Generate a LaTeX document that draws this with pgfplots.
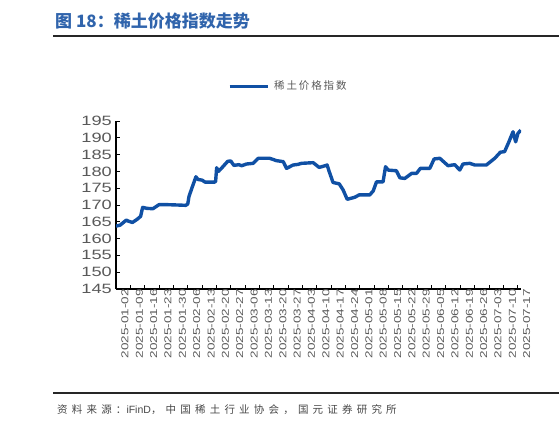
\documentclass[border=0pt]{standalone}
\usepackage{fontspec}
\usepackage{pgfplots}
\pgfplotsset{compat=1.18}
\setmainfont{Liberation Sans}
\newfontfamily\cjk{Noto Sans CJK SC}
\newfontfamily\cjkleg[LetterSpace=18]{Noto Sans CJK SC}
\newfontfamily\cjksrc[LetterSpace=40]{Noto Sans CJK SC}
\newfontfamily\numfont[FakeStretch=1.35]{Liberation Sans}
\definecolor{lineblue}{RGB}{16,80,164}
\definecolor{titleblue}{RGB}{48,100,172}
\definecolor{txtgray}{RGB}{89,89,89}

\begin{document}
\begin{tikzpicture}[x=1pt,y=1pt]
\useasboundingbox (0,0) rectangle (559,-428);
% title and rules
\node[anchor=west, text=titleblue, font=\cjk\bfseries\fontsize{17}{18}\selectfont, inner sep=0pt]
  at (55,-21) {图 18：稀土价格指数走势};
\draw[line width=2pt, black!85] (53,-36) -- (559,-36);
\draw[line width=2pt, black!85] (53,-393) -- (559,-393);
\node[anchor=west, text=txtgray!80!black, font=\fontsize{10.5}{12}\selectfont, inner sep=0pt]
  at (57,-410) {{\cjksrc 资料来源：}iFinD{\cjksrc ，中国稀土行业协会，国元证券研究所}};

\begin{axis}[
    at={(116pt,-289pt)}, anchor=south west,
    scale only axis,
    width=405pt, height=168pt,
    xmin=0, xmax=197.6,
    ymin=145, ymax=195,
    axis lines=left,
    axis line style={-, black, line width=1.1pt},
    tick style={black, line width=1pt},
    tick align=inside,
    major tick length=4pt,
    xtick={0,7,...,196},
    xticklabels={2025-01-02,2025-01-09,2025-01-16,2025-01-23,2025-01-30,2025-02-06,2025-02-13,2025-02-20,2025-02-27,2025-03-06,2025-03-13,2025-03-20,2025-03-27,2025-04-03,2025-04-10,2025-04-17,2025-04-24,2025-05-01,2025-05-08,2025-05-15,2025-05-22,2025-05-29,2025-06-05,2025-06-12,2025-06-19,2025-06-26,2025-07-03,2025-07-10,2025-07-17},
    xticklabel style={rotate=90, anchor=east, text=txtgray, font=\numfont\fontsize{10}{10}\selectfont, inner sep=0pt},
    x tick label style={yshift=-9pt},
    ytick={145,150,...,195},
    yticklabel style={text=txtgray, font=\numfont\fontsize{13.5}{14}\selectfont, inner sep=0pt, xshift=-4pt},
    /pgf/number format/assume math mode=true,
    legend style={at={(axis description cs:0.2765,1.2083)}, anchor=west, draw=none, fill=none,
        inner sep=0pt, nodes={inner sep=0pt}, column sep=5pt,
        font=\cjkleg\fontsize{10.5}{12}\selectfont, text=txtgray},
    legend image code/.code={\draw[#1, line width=3pt] (0pt,0pt) -- (38pt,0pt);},
]
\addplot[color=lineblue, line width=3.4pt, line join=round] coordinates {
(0,163.7)(2,164.0)(5,165.5)(6,165.2)(8,164.8)(10,165.6)(12,166.6)(13,169.3)
(15,169.0)(18,168.9)(19,169.3)(21,170.1)(25,170.1)(30,170.0)(34,169.9)(35,170.3)
(35.6,172.5)(37,175.0)(39,178.4)(40,177.6)(42,177.4)(43.5,176.8)(48,176.8)(48.6,177.0)
(49.1,181.1)(50,180.0)(52,181.3)(54.5,183.0)(56,183.1)(57.5,181.8)(60,182.0)(61.3,181.7)
(63.7,182.2)(66.9,182.4)(69.4,183.9)(75,183.9)(78.3,183.2)(81.6,182.9)(83.2,180.9)
(86.4,181.9)(88.9,182.1)(90.5,182.4)(96.2,182.6)(99.1,181.2)(101,181.5)(103,181.9)
(104,180.0)(105.9,176.7)(108.9,176.3)(110.8,174.5)(112.8,171.7)(116.5,172.3)(118.6,173.0)
(123.8,173.0)(125.5,174.2)(127.1,176.9)(130.3,176.9)(131.5,181.4)(132.8,180.4)(134.5,180.3)
(136.8,180.2)(138.5,178.1)(140.9,177.9)(144.2,179.4)(146.6,179.4)(148.5,180.9)(153.1,180.9)
(155.2,183.7)(158,183.9)(162,181.7)(165.3,182.0)(167.7,180.4)(169.3,182.2)(172.6,182.4)
(175,181.9)(180.7,181.9)(184.8,183.9)(187.5,185.7)(189.6,185.9)(191.7,188.8)(193.7,191.8)
(195,188.8)(196.1,191.3)(197.5,192.3)
};
\addlegendentry{稀土价格指数}
\end{axis}
\end{tikzpicture}
\end{document}
